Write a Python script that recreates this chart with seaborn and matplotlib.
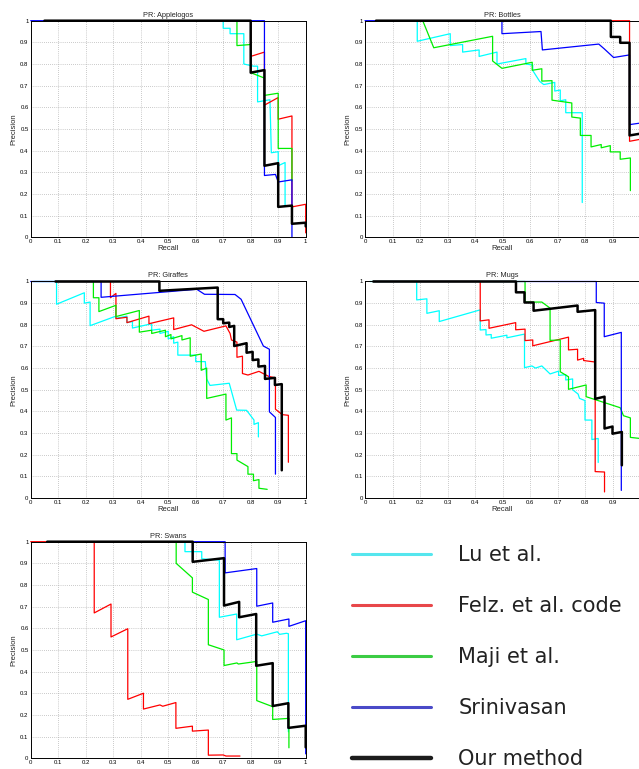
import numpy as np
import pandas as pd
import matplotlib
matplotlib.use("Agg")
import matplotlib.pyplot as plt
from matplotlib.lines import Line2D
import seaborn as sns

# ---------------- data ----------------
METHODS = ["Lu et al.", "Felz. et al. code", "Maji et al.", "Srinivasan", "Our method"]
TICKS = [0, 0.1, 0.2, 0.3, 0.4, 0.5, 0.6, 0.7, 0.8, 0.9, 1.0]
TICK_LABELS = ["0", "0.1", "0.2", "0.3", "0.4", "0.5", "0.6", "0.7", "0.8", "0.9", "1"]
TITLES = ["PR: Applelogos", "PR: Bottles", "PR: Giraffes", "PR: Mugs", "PR: Swans"]

# (recall, precision) points per method
apple_lu = [(0.05, 1), (0.70, 1), (0.70, 0.965), (0.725, 0.965), (0.725, 0.94), (0.775, 0.94), (0.775, 0.80),
            (0.81, 0.79), (0.825, 0.79), (0.825, 0.625), (0.87, 0.635), (0.875, 0.39), (0.90, 0.395),
            (0.90, 0.33), (0.925, 0.345), (0.925, 0.145)]
apple_felz = [(0.05, 1), (0.80, 1), (0.80, 0.835), (0.85, 0.855), (0.85, 0.61), (0.90, 0.645), (0.90, 0.545),
              (0.95, 0.56), (0.95, 0.14), (1.0, 0.152), (1.0, 0.02)]
apple_maji = [(0.05, 1), (0.75, 1), (0.75, 0.885), (0.80, 0.89), (0.80, 0.76), (0.85, 0.735), (0.85, 0.655),
              (0.90, 0.665), (0.90, 0.41), (0.95, 0.41), (0.95, 0.26)]
apple_srini = [(0.0, 1), (0.85, 1), (0.85, 0.285), (0.89, 0.29), (0.90, 0.255), (0.95, 0.265), (0.95, 0.0)]
apple_ours = [(0.05, 1), (0.80, 1), (0.80, 0.76), (0.85, 0.772), (0.85, 0.33), (0.90, 0.342), (0.90, 0.14),
              (0.95, 0.146), (0.95, 0.062), (1.0, 0.067), (1.0, 0.05)]

bottle_lu = [(0.04, 1), (0.19, 1), (0.19, 0.905), (0.31, 0.94), (0.31, 0.885), (0.355, 0.89), (0.355, 0.855),
             (0.415, 0.865), (0.415, 0.835), (0.48, 0.855), (0.48, 0.80), (0.585, 0.825), (0.585, 0.80),
             (0.61, 0.795), (0.61, 0.77), (0.635, 0.72), (0.65, 0.705), (0.69, 0.715), (0.69, 0.675),
             (0.71, 0.68), (0.71, 0.63), (0.73, 0.635), (0.73, 0.575), (0.79, 0.575), (0.79, 0.16)]
bottle_felz = [(0.04, 1), (0.962, 1), (0.962, 0.443), (1.0, 0.452)]
bottle_maji = [(0.04, 1), (0.21, 1), (0.25, 0.875), (0.464, 0.928), (0.464, 0.814), (0.498, 0.78), (0.608, 0.808),
               (0.608, 0.771), (0.643, 0.778), (0.643, 0.721), (0.68, 0.723), (0.68, 0.633), (0.752, 0.62),
               (0.752, 0.555), (0.783, 0.55), (0.783, 0.47), (0.822, 0.47), (0.822, 0.417), (0.859, 0.428),
               (0.859, 0.413), (0.892, 0.423), (0.892, 0.394), (0.928, 0.394), (0.928, 0.36), (0.965, 0.366),
               (0.965, 0.215)]
bottle_srini = [(0.0, 1), (0.498, 1), (0.498, 0.94), (0.64, 0.95), (0.645, 0.865), (0.85, 0.892), (0.87, 0.87),
                (0.904, 0.83), (0.962, 0.842), (0.962, 0.52), (1.0, 0.527)]
bottle_ours = [(0.04, 1), (0.894, 1), (0.894, 0.925), (0.928, 0.925), (0.928, 0.898), (0.962, 0.898),
               (0.962, 0.47), (1.0, 0.478)]

giraffe_lu = [(0.01, 1), (0.094, 1), (0.094, 0.895), (0.195, 0.948), (0.195, 0.9), (0.216, 0.905), (0.216, 0.796),
              (0.31, 0.84), (0.31, 0.83), (0.35, 0.84), (0.35, 0.81), (0.37, 0.815), (0.37, 0.785), (0.44, 0.805),
              (0.44, 0.775), (0.47, 0.78), (0.47, 0.76), (0.5, 0.77), (0.5, 0.735), (0.52, 0.745), (0.52, 0.715),
              (0.535, 0.72), (0.535, 0.66), (0.6, 0.66), (0.6, 0.63), (0.635, 0.63), (0.64, 0.55), (0.652, 0.52),
              (0.722, 0.53), (0.749, 0.406), (0.785, 0.405), (0.812, 0.36), (0.812, 0.34), (0.828, 0.348),
              (0.828, 0.282)]
giraffe_felz = [(0.09, 1), (0.29, 1), (0.29, 0.925), (0.31, 0.945), (0.31, 0.828), (0.35, 0.835), (0.35, 0.81),
                (0.43, 0.84), (0.43, 0.805), (0.52, 0.832), (0.52, 0.778), (0.585, 0.8), (0.63, 0.77),
                (0.71, 0.795), (0.725, 0.76), (0.73, 0.73), (0.75, 0.72), (0.75, 0.65), (0.77, 0.655),
                (0.77, 0.575), (0.79, 0.568), (0.83, 0.585), (0.865, 0.562), (0.89, 0.555), (0.89, 0.41),
                (0.915, 0.385), (0.937, 0.382), (0.937, 0.165)]
giraffe_maji = [(0.09, 1), (0.228, 1), (0.228, 0.925), (0.248, 0.925), (0.248, 0.861), (0.31, 0.89),
                (0.31, 0.838), (0.395, 0.866), (0.395, 0.766), (0.44, 0.775), (0.44, 0.76), (0.49, 0.775),
                (0.49, 0.745), (0.51, 0.755), (0.51, 0.735), (0.55, 0.75), (0.55, 0.73), (0.58, 0.74),
                (0.58, 0.655), (0.62, 0.665), (0.62, 0.59), (0.64, 0.60), (0.64, 0.46), (0.71, 0.48),
                (0.71, 0.36), (0.73, 0.37), (0.73, 0.205), (0.75, 0.205), (0.75, 0.175), (0.79, 0.145),
                (0.79, 0.11), (0.81, 0.11), (0.81, 0.08), (0.83, 0.085), (0.83, 0.045), (0.86, 0.04)]
giraffe_srini = [(0.0, 1), (0.256, 1), (0.256, 0.927), (0.604, 0.964), (0.632, 0.941), (0.743, 0.94),
                 (0.765, 0.918), (0.846, 0.702), (0.868, 0.687), (0.868, 0.398), (0.89, 0.372), (0.89, 0.11)]
giraffe_ours = [(0.09, 1), (0.468, 1), (0.468, 0.957), (0.68, 0.972), (0.68, 0.826), (0.70, 0.826),
                (0.70, 0.807), (0.722, 0.81), (0.722, 0.79), (0.74, 0.795), (0.74, 0.702), (0.785, 0.715),
                (0.785, 0.671), (0.807, 0.675), (0.807, 0.637), (0.828, 0.64), (0.828, 0.607), (0.852, 0.61),
                (0.852, 0.55), (0.888, 0.555), (0.888, 0.522), (0.913, 0.526), (0.913, 0.128)]

mug_lu = [(0.018, 1), (0.188, 1), (0.188, 0.915), (0.225, 0.92), (0.225, 0.853), (0.27, 0.865), (0.27, 0.815),
          (0.419, 0.869), (0.419, 0.776), (0.44, 0.778), (0.44, 0.753), (0.459, 0.755), (0.459, 0.738),
          (0.516, 0.752), (0.516, 0.74), (0.58, 0.757), (0.58, 0.602), (0.607, 0.61), (0.62, 0.6),
          (0.643, 0.61), (0.673, 0.573), (0.704, 0.586), (0.704, 0.566), (0.73, 0.57), (0.73, 0.545),
          (0.755, 0.55), (0.755, 0.5), (0.775, 0.48), (0.78, 0.46), (0.80, 0.45), (0.80, 0.36), (0.825, 0.36),
          (0.825, 0.27), (0.848, 0.275), (0.848, 0.164)]
mug_felz = [(0.03, 1), (0.419, 1), (0.419, 0.818), (0.451, 0.823), (0.451, 0.784), (0.548, 0.81), (0.548, 0.777),
            (0.582, 0.78), (0.582, 0.727), (0.61, 0.73), (0.61, 0.703), (0.74, 0.743), (0.74, 0.684),
            (0.773, 0.687), (0.773, 0.637), (0.795, 0.645), (0.795, 0.635), (0.837, 0.628), (0.837, 0.122),
            (0.871, 0.12), (0.871, 0.028)]
mug_maji = [(0.03, 1), (0.582, 1), (0.582, 0.905), (0.643, 0.905), (0.673, 0.877), (0.673, 0.728), (0.71, 0.73),
            (0.71, 0.583), (0.74, 0.56), (0.74, 0.502), (0.804, 0.522), (0.804, 0.468), (0.928, 0.417),
            (0.94, 0.38), (0.965, 0.37), (0.965, 0.28), (1.0, 0.275)]
mug_srini = [(0.03, 1), (0.841, 1), (0.841, 0.903), (0.87, 0.9), (0.87, 0.745), (0.932, 0.765), (0.932, 0.035)]
mug_ours = [(0.03, 1), (0.549, 1), (0.549, 0.95), (0.58, 0.95), (0.58, 0.903), (0.613, 0.903), (0.613, 0.865),
            (0.773, 0.889), (0.773, 0.86), (0.837, 0.868), (0.837, 0.458), (0.871, 0.468), (0.871, 0.321),
            (0.9, 0.33), (0.9, 0.297), (0.934, 0.305), (0.934, 0.151)]

swan_lu = [(0.06, 1), (0.561, 1), (0.561, 0.954), (0.622, 0.954), (0.622, 0.921), (0.686, 0.915), (0.686, 0.651),
           (0.749, 0.666), (0.749, 0.547), (0.822, 0.573), (0.84, 0.565), (0.897, 0.584), (0.905, 0.572),
           (0.93, 0.577), (0.937, 0.575), (0.937, 0.122)]
swan_felz = [(0.0, 1), (0.231, 1), (0.231, 0.671), (0.292, 0.712), (0.292, 0.56), (0.353, 0.598), (0.353, 0.272),
             (0.41, 0.3), (0.41, 0.227), (0.47, 0.246), (0.48, 0.24), (0.528, 0.257), (0.528, 0.138),
             (0.588, 0.148), (0.588, 0.125), (0.646, 0.13), (0.646, 0.014), (0.70, 0.015), (0.71, 0.01),
             (0.761, 0.01)]
swan_maji = [(0.06, 1), (0.529, 1), (0.529, 0.9), (0.588, 0.833), (0.588, 0.767), (0.646, 0.733), (0.646, 0.524),
             (0.703, 0.5), (0.703, 0.428), (0.75, 0.44), (0.755, 0.435), (0.822, 0.447), (0.822, 0.266),
             (0.88, 0.238), (0.88, 0.179), (0.939, 0.184), (0.939, 0.048)]
swan_srini = [(0.06, 1), (0.707, 1), (0.707, 0.856), (0.822, 0.876), (0.822, 0.702), (0.88, 0.717), (0.88, 0.628),
              (0.939, 0.643), (0.939, 0.609), (1.0, 0.635), (1.0, 0.02)]
swan_ours = [(0.06, 1), (0.589, 1), (0.589, 0.907), (0.703, 0.924), (0.703, 0.705), (0.758, 0.722),
             (0.758, 0.651), (0.82, 0.666), (0.82, 0.427), (0.88, 0.439), (0.88, 0.241), (0.937, 0.254),
             (0.937, 0.14), (1.0, 0.15), (1.0, 0.05)]

PANELS = [
    [apple_lu, apple_felz, apple_maji, apple_srini, apple_ours],
    [bottle_lu, bottle_felz, bottle_maji, bottle_srini, bottle_ours],
    [giraffe_lu, giraffe_felz, giraffe_maji, giraffe_srini, giraffe_ours],
    [mug_lu, mug_felz, mug_maji, mug_srini, mug_ours],
    [swan_lu, swan_felz, swan_maji, swan_srini, swan_ours],
]

# ---------------- style ----------------
COLORS = {"Lu et al.": "#00ffff", "Felz. et al. code": "#ff0000", "Maji et al.": "#00ee00",
          "Srinivasan": "#0000ff", "Our method": "#000000"}
SIZES = {"Lu et al.": 0.9, "Felz. et al. code": 0.9, "Maji et al.": 0.9, "Srinivasan": 0.9, "Our method": 1.8}
LEG_COLORS = {"Lu et al.": "#55e6ee", "Felz. et al. code": "#e8474a", "Maji et al.": "#3ccc44",
              "Srinivasan": "#4a4ac8", "Our method": "#1c1c1c"}

sns.set_theme(style="white")
plt.rcParams["font.family"] = ["Liberation Sans", "DejaVu Sans"]

W, H = 639, 769
fig = plt.figure(figsize=(W / 100, H / 100), dpi=100)

AX_W, AX_H = 275, 216.5
positions = [(30.7, 20.7), (365, 20.7), (30.7, 281.5), (365, 281.5), (30.7, 541.7)]

for k, (curves, title, (lx, ty)) in enumerate(zip(PANELS, TITLES, positions)):
    ax = fig.add_axes([lx / W, 1 - (ty + AX_H) / H, AX_W / W, AX_H / H])
    frames = []
    for m, pts in zip(METHODS, curves):
        d = pd.DataFrame(pts, columns=["recall", "precision"])
        d["method"] = m
        frames.append(d)
    df = pd.concat(frames, ignore_index=True)
    sns.lineplot(data=df, x="recall", y="precision", hue="method", size="method",
                 hue_order=METHODS, size_order=METHODS, palette=COLORS, sizes=SIZES,
                 sort=False, estimator=None, legend=False, ax=ax, clip_on=False)
    ax.set_xlim(0, 1)
    ax.set_ylim(0, 1)
    right_col = k in (1, 3)
    ax.set_xticks(TICKS)
    ax.set_xticklabels(TICK_LABELS[:-1] + [""] if right_col else TICK_LABELS)
    ax.set_yticks(TICKS)
    ax.set_yticklabels(TICK_LABELS)
    ax.grid(True, linestyle=(0, (1, 2)), color="#9a9a9a", linewidth=0.5)
    ax.tick_params(direction="in", length=2, width=0.5, labelsize=4.3, pad=1.5, colors="black",
                   top=False, right=False)
    for s in ax.spines.values():
        s.set_color("black")
        s.set_linewidth(0.7)
    ax.set_title(title, fontsize=5.3, pad=3)
    ax.set_ylabel("Precision", fontsize=5.5, labelpad=2)
    if k < 4:
        ax.set_xlabel("Recall", fontsize=5.5, labelpad=0.8)
    else:
        ax.set_xlabel("")

handles = [Line2D([], [], color=LEG_COLORS[m], lw=3.2 if m == "Our method" else 2.2) for m in METHODS]
fig.legend(handles, METHODS, loc="upper left", bbox_to_anchor=(352 / W, 1 - 545 / H),
           frameon=False, prop={"family": "DejaVu Sans", "size": 15}, labelcolor="#222222",
           handlelength=3.8, handletextpad=1.3, labelspacing=1.49, borderpad=0, borderaxespad=0)

fig.savefig("out.png", dpi=100)
